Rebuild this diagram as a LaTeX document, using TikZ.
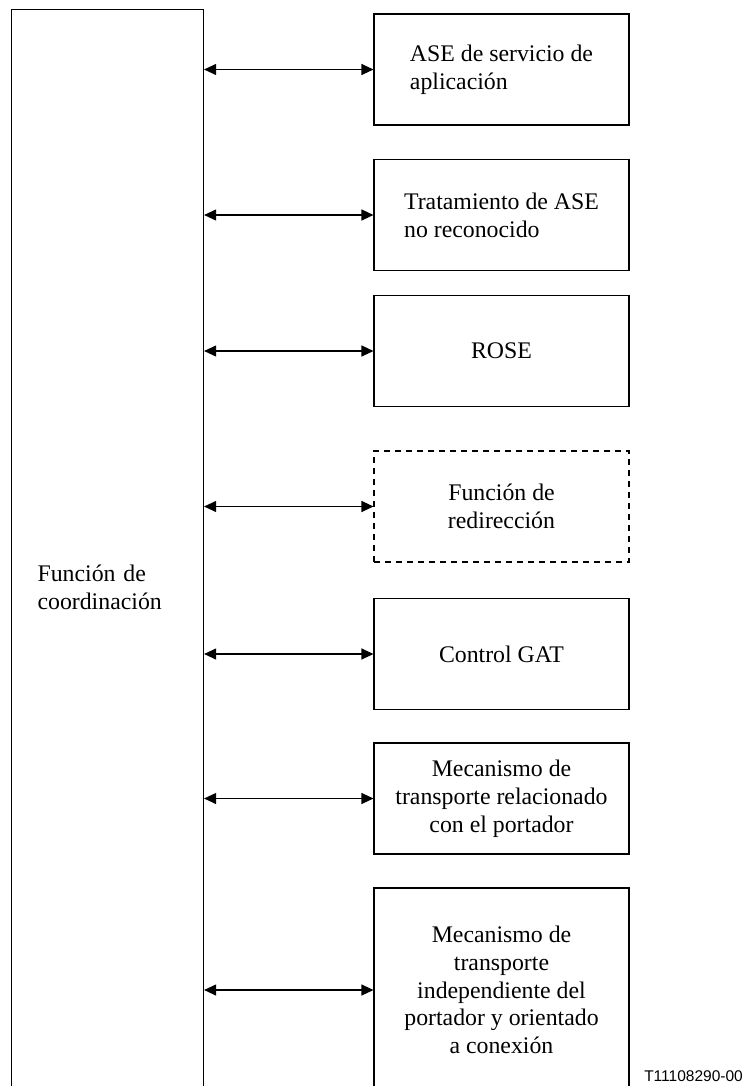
\documentclass[tikz,border=0pt]{standalone}
\usepackage{fontspec}
\setmainfont{Liberation Serif}
\newfontfamily\labelfont{Liberation Sans}
\usetikzlibrary{arrows.meta}
\tikzset{
  box/.style={draw, line width=1.1pt, minimum width=255pt, minimum height=111pt, inner sep=4pt,
    font=\fontsize{23.8}{27.8}\selectfont},
  dashedbox/.style={box, dash pattern=on 6pt off 5pt},
  link/.style={{Triangle[length=12pt,width=11pt]}-{Triangle[length=12pt,width=11pt]}, line width=1.1pt},
}
\begin{document}
\begin{tikzpicture}[x=1pt,y=-1pt]
\clip (0,0) rectangle (744,1086);
\useasboundingbox (0,0) rectangle (744,1086);
\node[box, anchor=north west, minimum width=192pt, minimum height=1155pt, text width=140pt, inner xsep=26pt, align=left] (coord) at (11,9) {Función de\\coordinación};
\node[box, align=left] (b1) at (501.5,69.5) {ASE de servicio de\\aplicación};
\node[box, align=left] (b2) at (501.5,215) {Tratamiento de ASE\\no reconocido};
\node[box, align=center] (b3) at (501.5,351) {ROSE};
\node[dashedbox, align=center] (b4) at (501.5,506.5) {Función de\\redirección};
\node[box, align=center] (b5) at (501.5,654) {Control GAT};
\node[box, align=center] (b6) at (501.5,798.5) {Mecanismo de\\transporte relacionado\\con el portador};
\node[box, align=center, minimum height=204pt] (b7) at (501.5,990) {Mecanismo de\\transporte\\independiente del\\portador y orientado\\a conexión};
\foreach \b in {b1,b2,b3,b4,b5,b6,b7}{
  \draw[link] (\b.west -| coord.east) -- (\b.west);
}
\node[anchor=east, inner sep=0pt, font=\labelfont\fontsize{15.5}{18}\selectfont] (tag) at (743,1076) {T11108290-00};
\end{tikzpicture}
\end{document}
